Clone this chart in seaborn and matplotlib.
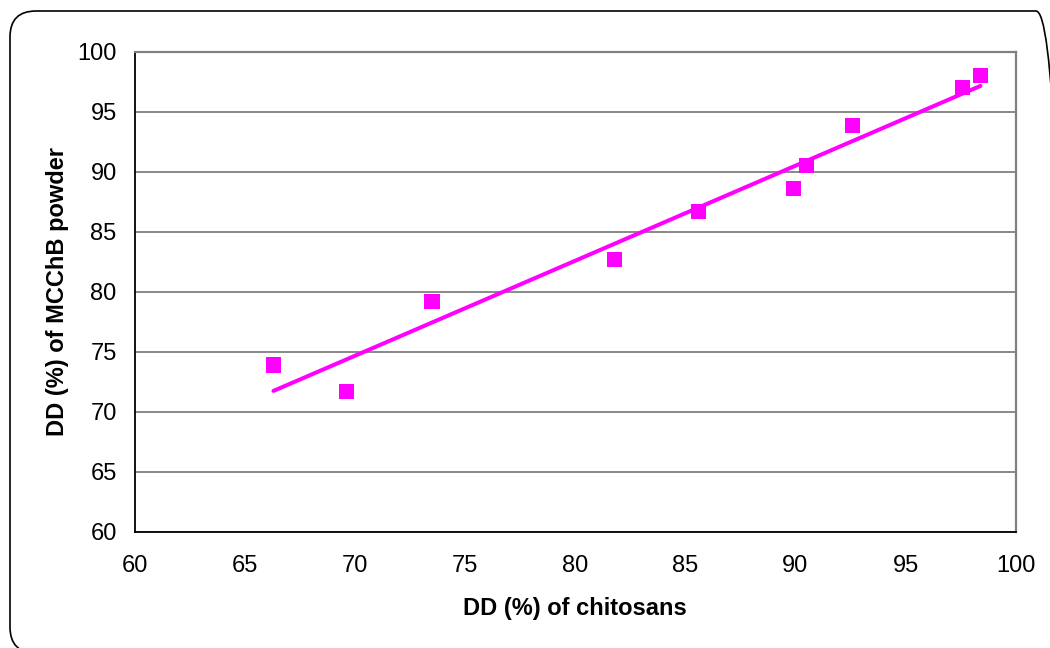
import numpy as np
import pandas as pd
import matplotlib
matplotlib.use("Agg")
import matplotlib.pyplot as plt
from matplotlib.patches import FancyBboxPatch
import seaborn as sns

# Degree of deacetylation: chitosan starting material vs. resulting MCChB powder
dd_chitosan = [66.3, 69.6, 73.5, 81.8, 85.6, 89.9, 90.5, 92.6, 97.6, 98.4]
dd_mcchb = [73.9, 71.7, 79.2, 82.7, 86.7, 88.6, 90.5, 93.9, 97.0, 98.0]
x_ticks = [60, 65, 70, 75, 80, 85, 90, 95, 100]
y_ticks = [60, 65, 70, 75, 80, 85, 90, 95, 100]

df = pd.DataFrame({"chitosan": dd_chitosan, "mcchb": dd_mcchb})

sns.set_theme(style="white")
plt.rcParams["font.family"] = ["Liberation Sans", "DejaVu Sans"]
plt.rcParams["text.color"] = "black"
plt.rcParams["axes.labelcolor"] = "black"

fig = plt.figure(figsize=(10.5, 6.48), dpi=100)
ax = fig.add_axes([0.1283, 0.1795, 0.8390, 0.7403])

magenta = "#FF00FF"

# Linear trend line across the measured range
sns.regplot(data=df, x="chitosan", y="mcchb", ax=ax, ci=None, truncate=True,
            scatter=False, line_kws={"color": magenta, "lw": 2.9, "zorder": 3})
sns.scatterplot(data=df, x="chitosan", y="mcchb", ax=ax, marker="s", s=118,
                color=magenta, edgecolor="none", linewidth=0, zorder=4)

ax.set_xlim(60, 100)
ax.set_ylim(60, 100)
ax.set_xticks(x_ticks)
ax.set_yticks(y_ticks)
ax.set_xticklabels([str(v) for v in x_ticks])
ax.set_yticklabels([str(v) for v in y_ticks])
ax.tick_params(axis="both", direction="out", length=5, width=1.1,
               colors="black", labelcolor="black", labelsize=17)
ax.tick_params(axis="x", pad=12)
ax.tick_params(axis="y", pad=8)

# Horizontal gridlines
ax.yaxis.grid(True, color="#808080", lw=1.3)
ax.xaxis.grid(False)
ax.set_axisbelow(True)

for side in ("left", "bottom"):
    ax.spines[side].set_color("black")
    ax.spines[side].set_linewidth(1.3)
for side in ("top", "right"):
    ax.spines[side].set_color("#808080")
    ax.spines[side].set_linewidth(1.6)

ax.set_xlabel("DD (%) of chitosans", fontsize=17, fontweight="bold",
              color="black", labelpad=14)
ax.set_ylabel("DD (%) of MCChB powder", fontsize=17, fontweight="bold",
              color="black", labelpad=6)

# Rounded chart frame, laid out in inches so the corners stay circular
frame = FancyBboxPatch((0.10, -0.05), 10.52, 6.42,
                       boxstyle="round,pad=0,rounding_size=0.26",
                       transform=fig.dpi_scale_trans, fill=False,
                       edgecolor="black", lw=1.2)
fig.patches.append(frame)

fig.savefig("out.png", dpi=100)
